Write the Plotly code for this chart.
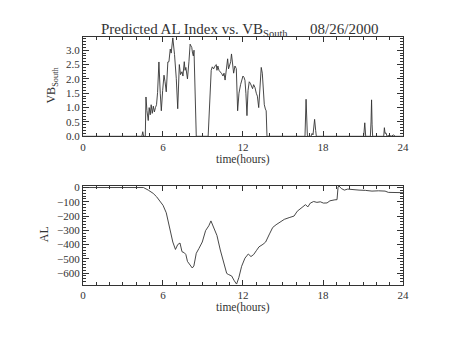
import plotly.graph_objects as go

# Southward IMF component (VB_South) vs. time of day, 08/26/2000
vb_hours = [0, 4.42, 4.49, 4.55, 4.68, 4.73, 4.80, 4.90, 4.97, 5.05, 5.12, 5.20, 5.28, 5.36,
            5.44, 5.52, 5.60, 5.70, 5.80, 5.88, 5.98, 6.08, 6.16, 6.25, 6.37, 6.45, 6.55,
            6.62, 6.74, 6.80, 6.87, 7.00, 7.11, 7.23, 7.32, 7.43, 7.50, 7.60, 7.66, 7.72,
            7.84, 7.95, 8.04, 8.10, 8.16, 8.22, 8.28, 8.33, 8.38, 8.45, 8.50, 9.39, 9.50,
            9.62, 9.70, 9.80, 9.93, 10.00, 10.05, 10.12, 10.20, 10.30, 10.41, 10.50, 10.58,
            10.66, 10.75, 10.85, 10.92, 11.00, 11.08, 11.14, 11.20, 11.30, 11.40, 11.50,
            11.60, 11.70, 11.82, 11.92, 12.00, 12.08, 12.15, 12.22, 12.30, 12.38, 12.47,
            12.55, 12.62, 12.72, 12.80, 12.90, 13.00, 13.08, 13.18, 13.26, 13.37, 13.45,
            13.52, 13.60, 13.68, 13.74, 13.80, 16.65, 16.73, 16.78, 16.83, 17.10, 17.18,
            17.25, 17.37, 17.45, 17.50, 21.05, 21.13, 21.20, 21.55, 21.60, 21.64, 21.68,
            21.72, 22.55, 22.60, 22.65, 22.72, 22.80, 23.00, 23.10, 23.30, 23.40, 24.00]
vb_south = [0, 0, 0.16, 0, 0, 1.37, 0.90, 0.55, 1.00, 0.75, 1.10, 0.80, 1.05, 0.85,
            1.00, 1.10, 1.53, 2.59, 1.50, 0.89, 1.60, 2.13, 1.90, 1.55, 2.59, 2.60, 3.04,
            2.90, 3.43, 3.20, 2.85, 2.02, 0.96, 2.50, 2.15, 2.25, 2.10, 2.60, 2.30, 2.40,
            2.00, 2.60, 3.21, 3.15, 3.10, 2.90, 2.80, 3.00, 2.00, 0.80, 0, 0, 0.90,
            2.30, 2.42, 2.35, 2.47, 2.50, 2.30, 2.45, 2.30, 2.25, 2.18, 2.10, 2.20,
            1.96, 2.40, 2.70, 2.35, 2.50, 2.60, 2.87, 2.50, 2.20, 2.45, 2.36,
            0.89, 1.50, 1.80, 2.00, 2.10, 2.05, 1.95, 1.50, 0.72, 1.60, 1.90,
            1.85, 1.75, 1.66, 1.80, 1.70, 1.50, 1.40, 1.00, 1.80, 2.40, 2.20,
            1.60, 1.10, 0.95, 0.89, 0, 0, 1.29, 0.60, 0, 0, 0.10,
            0.05, 0.59, 0.20, 0, 0, 0.47, 0, 0, 0.50, 1.27, 0.40,
            0, 0, 0.30, 0.10, 0.12, 0, 0.04, 0, 0.05, 0, 0]

# Predicted AL index vs. time of day
al_hours = [0, 4.54, 4.90, 5.27, 5.52, 5.76, 6.01, 6.25, 6.50, 6.74, 6.94, 7.11, 7.28,
            7.43, 7.60, 7.72, 7.84, 8.00, 8.20, 8.32, 8.50, 8.70, 8.95, 9.20, 9.44, 9.60,
            9.80, 10.05, 10.30, 10.54, 10.78, 10.90, 11.15, 11.35, 11.52, 11.69, 11.90,
            12.15, 12.40, 12.60, 12.80, 13.00, 13.20, 13.50, 13.70, 13.99, 14.23, 14.48,
            14.72, 15.10, 15.46, 15.83, 16.07, 16.44, 16.69, 16.86, 17.05, 17.30, 17.54,
            17.80, 18.03, 18.30, 18.52, 18.89, 19.05, 19.13, 19.20, 19.37, 19.60, 19.85,
            20.20, 20.70, 21.18, 21.67, 22.16, 22.65, 22.90, 23.40, 23.77, 24.00]
al_index = [0, 0, -18, -41, -64, -98, -125, -177, -280, -382, -434, -400, -389,
            -450, -457, -470, -518, -541, -564, -550, -461, -427, -382, -302, -268, -234,
            -280, -336, -438, -530, -602, -609, -620, -654, -677, -632, -552,
            -495, -466, -484, -470, -443, -416, -398, -382, -325, -280, -261,
            -245, -223, -211, -200, -166, -139, -120, -136, -109, -98, -104,
            -100, -109, -108, -93, -86, -85, 5, 11, -7, -18, -11,
            -16, -18, -20, -25, -23, -25, -34, -36, -36, -36]

INK = "#333333"
FONT = "Liberation Serif"
W, H = 454, 341

fig = go.Figure()
fig.add_trace(go.Scatter(x=vb_hours, y=vb_south, mode="lines",
                         line=dict(color=INK, width=0.9), xaxis="x", yaxis="y"))
fig.add_trace(go.Scatter(x=al_hours, y=al_index, mode="lines",
                         line=dict(color=INK, width=0.9), xaxis="x2", yaxis="y2"))

xdom = [0.1795, 0.899]
common_x = dict(range=[0, 24], tickvals=[0, 6, 12, 18, 24], ticks="inside", ticklen=5,
                tickcolor=INK, showline=True, linecolor=INK, linewidth=1, mirror="allticks",
                showgrid=False, zeroline=False, domain=xdom,
                tickfont=dict(family=FONT, size=11, color=INK),
                minor=dict(dtick=1, ticks="inside", ticklen=3, tickcolor=INK, showgrid=False))
common_y = dict(ticks="inside", ticklen=6, tickcolor=INK, showline=True, linecolor=INK,
                linewidth=1, mirror="allticks", showgrid=False, zeroline=False,
                tickfont=dict(family=FONT, size=11, color=INK))

fig.update_layout(
    width=W, height=H, margin=dict(l=0, r=0, t=0, b=0),
    paper_bgcolor="white", plot_bgcolor="white", showlegend=False,
    xaxis=dict(common_x, anchor="y"),
    xaxis2=dict(common_x, anchor="y2"),
    yaxis=dict(common_y, domain=[0.6003, 0.8994], range=[0, 3.45], anchor="x",
               tickvals=[0, 0.5, 1.0, 1.5, 2.0, 2.5, 3.0],
               ticktext=["0.0", "0.5", "1.0", "1.5", "2.0", "2.5", "3.0"],
               minor=dict(dtick=0.1, ticks="inside", ticklen=3, tickcolor=INK, showgrid=False)),
    yaxis2=dict(common_y, domain=[0.1525, 0.4507], range=[-680, 12], anchor="x2",
                tickvals=[0, -100, -200, -300, -400, -500, -600],
                ticktext=["0", "\u2212100", "\u2212200", "\u2212300", "\u2212400", "\u2212500", "\u2212600"],
                minor=dict(dtick=20, ticks="inside", ticklen=3, tickcolor=INK, showgrid=False)),
)


def label(text, px, py, size=12, angle=0):
    """Place a text centred on a pixel position measured from the top-left corner."""
    fig.add_annotation(text=text, x=px / W, y=1 - py / H, xref="paper", yref="paper",
                       xanchor="center", yanchor="middle", showarrow=False,
                       textangle=angle, font=dict(family=FONT, size=size, color=INK))


label("Predicted AL Index vs. VB<sub>South</sub>      08/26/2000", 241, 27, size=15)
label("time(hours)", 245, 160, size=11.5)
label("time(hours)", 245, 313, size=11.5)
label("VB<sub>South</sub>", 50, 84, angle=-90)
label("AL", 42, 237, angle=-90)

fig.write_html("out.html")
